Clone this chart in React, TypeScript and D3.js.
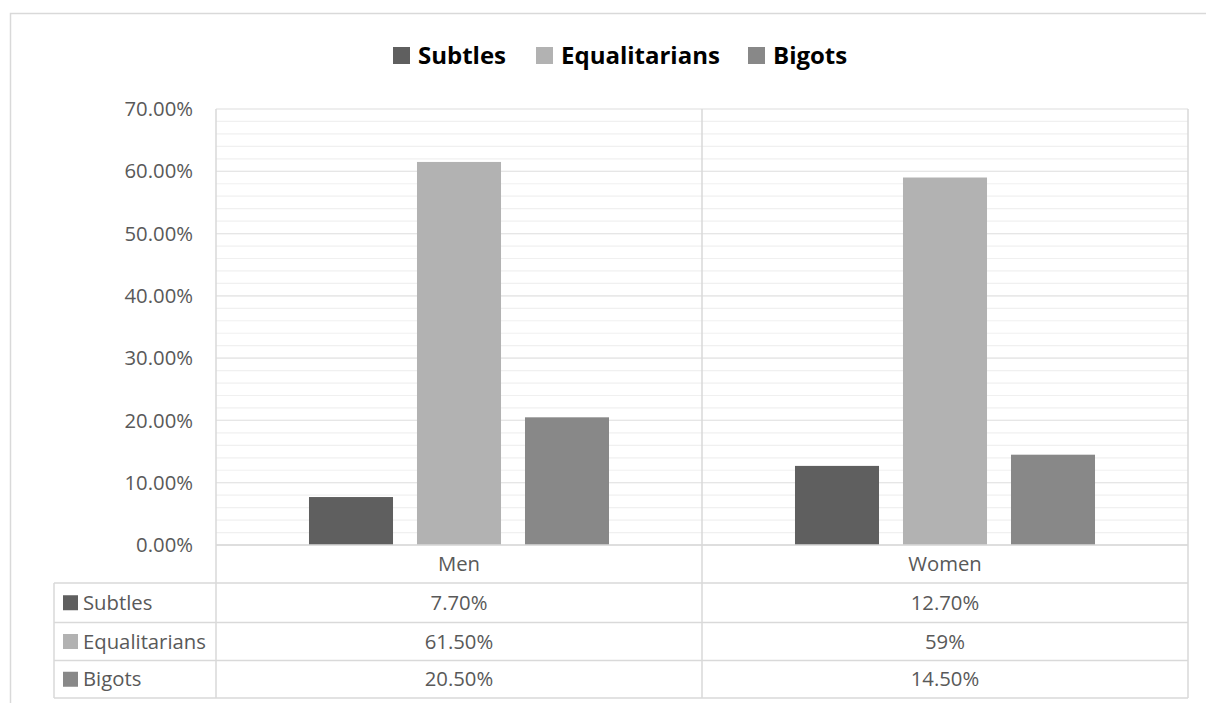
import React from "react";
import * as d3 from "d3";

const categories = ["Men", "Women"];
const seriesNames = ["Subtles", "Equalitarians", "Bigots"];
const subtles = [7.7, 12.7];
const equalitarians = [61.5, 59];
const bigots = [20.5, 14.5];
const subtlesLabels = ["7.70%", "12.70%"];
const equalitariansLabels = ["61.50%", "59%"];
const bigotsLabels = ["20.50%", "14.50%"];
const yTicks = [0, 10, 20, 30, 40, 50, 60, 70];
const colors = ["#5f5f5f", "#b2b2b2", "#888888"];

const W = 1206;
const H = 703;
const FONT = "'Open Sans', 'Noto Sans', sans-serif";

export default function App() {
  const seriesValues = [subtles, equalitarians, bigots];
  const seriesLabels = [subtlesLabels, equalitariansLabels, bigotsLabels];

  const plotL = 216;
  const plotR = 1188;
  const plotT = 109;
  const plotB = 545;

  const x0 = d3.scaleBand<string>().domain(categories).range([plotL, plotR]).padding(0);
  const x1 = d3
    .scaleBand<string>()
    .domain(seriesNames)
    .range([0, x0.bandwidth()])
    .paddingInner(0.222)
    .paddingOuter(0.861);
  const y = d3.scaleLinear().domain([0, 70]).range([plotB, plotT]);
  const minorTicks = d3.range(0, 70.001, 2);

  const rowTops = [545, 583, 622.5, 660.5, 698];
  const tableLeft = 54;
  const textColor = "#595959";
  const fs = 20.3;

  return (
    <svg
      width={W}
      height={H}
      style={{ position: "absolute", left: 0, top: 0, background: "#fff" }}
      fontFamily={FONT}
    >
      <rect x={0} y={0} width={W} height={H} fill="#fff" />
      <rect x={10.5} y={13.5} width={1300} height={800} fill="none" stroke="#d9d9d9" strokeWidth={1.5} />

      {/* Legend */}
      {seriesNames.map((s, i) => {
        const xs = [393, 536, 748][i];
        return (
          <g key={s}>
            <rect x={xs} y={47} width={17} height={17} fill={colors[i]} />
            <text x={xs + 25} y={55.5} dy="0.35em" fontSize={24} fontWeight={700} fill="#000">
              {s}
            </text>
          </g>
        );
      })}

      {/* minor gridlines */}
      {minorTicks.map((t) => (
        <line key={"m" + t} x1={plotL} x2={plotR} y1={y(t)} y2={y(t)} stroke="#f0f0f0" strokeWidth={1.2} />
      ))}
      {yTicks.map((t) => (
        <line key={"g" + t} x1={plotL} x2={plotR} y1={y(t)} y2={y(t)} stroke="#e6e6e6" strokeWidth={1.2} />
      ))}

      {/* y labels */}
      {yTicks.map((t) => (
        <text key={"yl" + t} x={193} y={y(t)} dy="0.35em" textAnchor="end" fontSize={fs} fill={textColor}>
          {t.toFixed(2) + "%"}
        </text>
      ))}

      {/* bars */}
      {categories.map((c, ci) => (
        <g key={c} transform={`translate(${x0(c)},0)`}>
          {seriesNames.map((s, si) => {
            const v = seriesValues[si][ci];
            return (
              <rect
                key={s}
                x={x1(s)}
                y={y(v)}
                width={x1.bandwidth()}
                height={y(0) - y(v)}
                fill={colors[si]}
              />
            );
          })}
        </g>
      ))}

      {/* axis / table lines */}
      <line x1={plotL} x2={plotR} y1={plotB} y2={plotB} stroke="#d9d9d9" strokeWidth={1.5} />
      {rowTops.slice(1).map((ry) => (
        <line key={"r" + ry} x1={tableLeft} x2={plotR} y1={ry} y2={ry} stroke="#d9d9d9" strokeWidth={1.5} />
      ))}
      <line x1={tableLeft} x2={tableLeft} y1={rowTops[1]} y2={rowTops[4]} stroke="#d9d9d9" strokeWidth={1.5} />
      {[plotL, (x0(categories[1]) as number), plotR].map((vx) => (
        <line key={"v" + vx} x1={vx} x2={vx} y1={plotT} y2={rowTops[4]} stroke="#d9d9d9" strokeWidth={1.5} />
      ))}

      {/* category row */}
      {categories.map((c) => (
        <text
          key={"c" + c}
          x={(x0(c) as number) + x0.bandwidth() / 2}
          y={(rowTops[0] + rowTops[1]) / 2}
          dy="0.35em"
          textAnchor="middle"
          fontSize={fs}
          fill={textColor}
        >
          {c}
        </text>
      ))}

      {/* data table rows */}
      {seriesNames.map((s, si) => {
        const cy = (rowTops[si + 1] + rowTops[si + 2]) / 2;
        return (
          <g key={"row" + s}>
            <rect x={63} y={cy - 7.5} width={15} height={15} fill={colors[si]} />
            <text x={83} y={cy} dy="0.35em" fontSize={fs} fill={textColor}>
              {s}
            </text>
            {categories.map((c, ci) => (
              <text
                key={c}
                x={(x0(c) as number) + x0.bandwidth() / 2}
                y={cy}
                dy="0.35em"
                textAnchor="middle"
                fontSize={fs}
                fill={textColor}
              >
                {seriesLabels[si][ci]}
              </text>
            ))}
          </g>
        );
      })}
    </svg>
  );
}
